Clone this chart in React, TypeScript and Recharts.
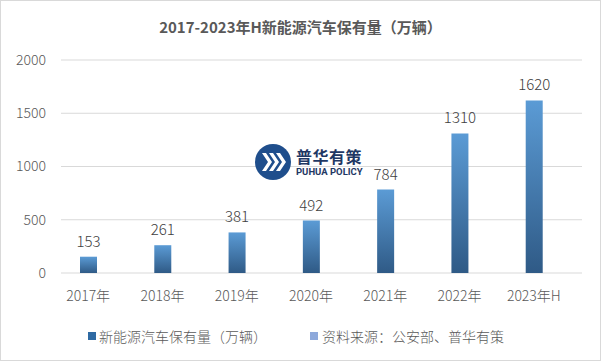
import React from 'react';
import { BarChart, Bar, XAxis, YAxis, CartesianGrid, LabelList } from 'recharts';

const years = ['2017年', '2018年', '2019年', '2020年', '2021年', '2022年', '2023年H'];
const holdings = [153, 261, 381, 492, 784, 1310, 1620];
const yTicks = [0, 500, 1000, 1500, 2000];
const seriesName = '新能源汽车保有量（万辆）';
const sourceNote = '资料来源：公安部、普华有策';

const data = years.map((year, i) => ({ year, value: holdings[i] }));

const FONT = '"Microsoft YaHei", "Noto Sans CJK SC", "Noto Sans", sans-serif';

const gridLine = (props: any) => (
  <line
    key={`h-${props.index}-${props.y1}`}
    x1={props.x1 + 10}
    x2={props.x2}
    y1={props.y1}
    y2={props.y2}
    stroke="#d9d9d9"
    strokeWidth={1}
  />
);

const Logo = () => (
  <div style={{ position: 'absolute', left: 254, top: 143, display: 'flex', alignItems: 'center' }}>
    <svg width={36} height={36} viewBox="0 0 36 36">
      <circle cx={18} cy={18} r={18} fill="#1f4e8c" />
      {[0, 7, 14].map((dx) => (
        <polygon
          key={dx}
          points={`${7 + dx},9 ${11 + dx},9 ${17 + dx},18 ${11 + dx},27 ${7 + dx},27 ${13 + dx},18`}
          fill="#ffffff"
        />
      ))}
    </svg>
    <div style={{ marginLeft: 5, lineHeight: 1 }}>
      <div style={{ fontFamily: FONT, fontWeight: 700, fontSize: 16, color: '#1f3864', letterSpacing: 0.5, height: 17 }}>
        普华有策
      </div>
      <div style={{ fontFamily: 'Roboto, sans-serif', fontWeight: 700, fontSize: 9.5, color: '#1f3864', marginTop: 2 }}>
        PUHUA POLICY
      </div>
    </div>
  </div>
);

export default function App() {
  return (
    <div
      style={{
        position: 'fixed',
        left: 0,
        top: 0,
        width: 599,
        height: 359,
        border: '1px solid #d9d9d9',
        background: '#ffffff',
        fontFamily: FONT,
      }}
    >
      <div
        style={{
          position: 'absolute',
          top: 15,
          left: 0,
          width: '100%',
          textAlign: 'center',
          fontSize: 15,
          fontWeight: 700,
          color: '#595959',
        }}
      >
        2017-2023年H新能源汽车保有量（万辆）
      </div>
      <div style={{ position: 'absolute', left: -1, top: -1 }}>
        <BarChart width={601} height={361} data={data} margin={{ top: 60, right: 19, bottom: 58, left: 0 }}>
          <defs>
            <linearGradient id="barFill" x1="0" y1="0" x2="0" y2="1">
              <stop offset="0%" stopColor="#5b9bd5" />
              <stop offset="100%" stopColor="#2f5a86" />
            </linearGradient>
          </defs>
          <CartesianGrid vertical={false} horizontal={gridLine} />
          <XAxis
            dataKey="year"
            axisLine={false}
            tickLine={false}
            padding={{ left: 0, right: 11 }}
            height={30}
            tickMargin={12}
            tick={{ fill: '#595959', fontSize: 14, fontWeight: 300 }}
          />
          <YAxis
            domain={[0, 2000]}
            ticks={yTicks}
            width={51}
            axisLine={false}
            tickLine={false}
            tickSize={3}
            tickMargin={2}
            tick={{ fill: '#595959', fontSize: 14, fontWeight: 300 }}
          />
          <Bar dataKey="value" name={seriesName} fill="url(#barFill)" barSize={17} isAnimationActive={false}>
            <LabelList dataKey="value" position="top" offset={10} fill="#404040" fontSize={15} fontWeight={300} />
          </Bar>
        </BarChart>
      </div>
      <Logo />
      <div
        style={{
          position: 'absolute',
          top: 325,
          left: 87,
          display: 'flex',
          alignItems: 'center',
          fontSize: 14,
          fontWeight: 300,
          color: '#595959',
          whiteSpace: 'nowrap',
        }}
      >
        <span style={{ width: 8, height: 8, background: '#2f6aa3', display: 'inline-block', marginRight: 3 }} />
        <span>{seriesName}</span>
        <span style={{ width: 8, height: 8, background: '#8ea9db', display: 'inline-block', marginLeft: 43, marginRight: 4 }} />
        <span>{sourceNote}</span>
      </div>
    </div>
  );
}
